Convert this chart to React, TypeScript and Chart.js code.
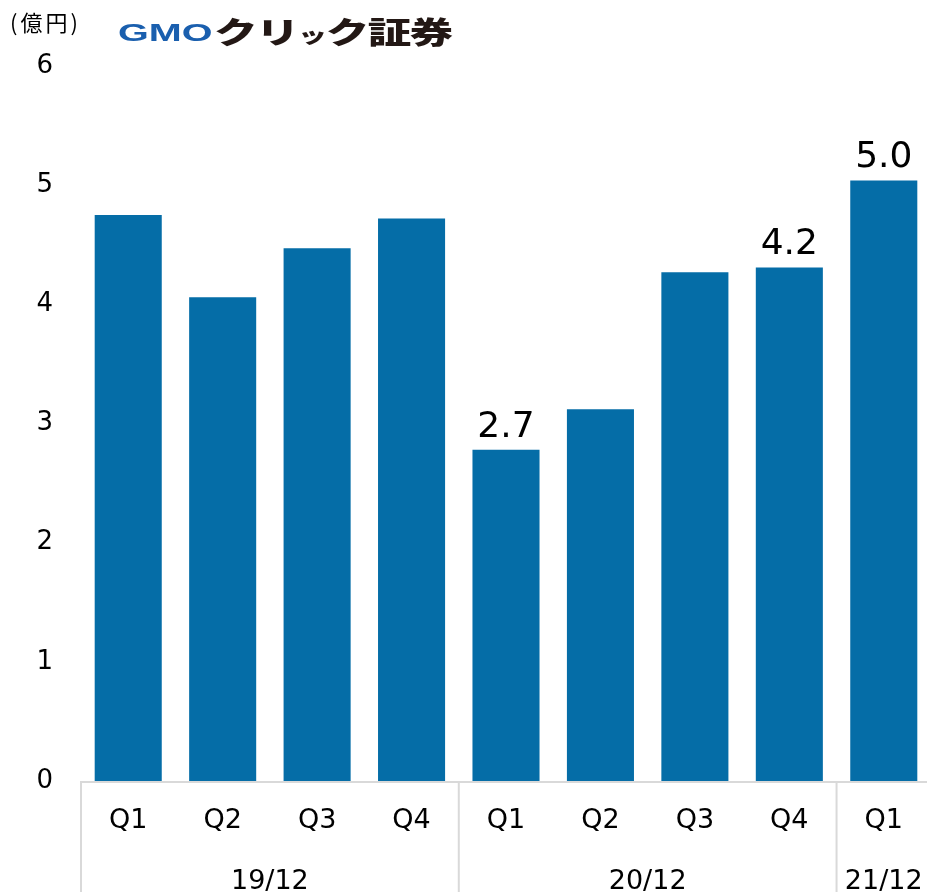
import React, { useEffect, useRef } from "react";
import { Chart, registerables } from "chart.js";

Chart.register(...registerables);

const quarters = ["Q1", "Q2", "Q3", "Q4", "Q1", "Q2", "Q3", "Q4", "Q1"];
const values = [4.75, 4.06, 4.47, 4.72, 2.78, 3.12, 4.27, 4.31, 5.04];
const valueLabels = ["", "", "", "", "2.7", "", "", "4.2", "5.0"];
const years = ["19/12", "20/12", "21/12"];
const yearSpans = [4, 4, 1];
const yTicks = [0, 1, 2, 3, 4, 5, 6];

const FONT = "'DejaVu Sans', Verdana, sans-serif";
const BAR = "#056da7";
const SEP = "#d9d9d9";

const groupPlugin = {
  id: "groups",
  afterDraw(chart: any) {
    const ctx = chart.ctx;
    const x = chart.scales.x;
    const area = chart.chartArea;
    const half = (x.getPixelForValue(1) - x.getPixelForValue(0)) / 2;
    ctx.save();
    // baseline
    ctx.strokeStyle = SEP;
    ctx.lineWidth = 2;
    ctx.beginPath();
    ctx.moveTo(area.left, area.bottom + 1);
    ctx.lineTo(area.right, area.bottom + 1);
    ctx.stroke();
    // separators and year labels
    let start = 0;
    ctx.font = "27px " + FONT;
    ctx.fillStyle = "#000";
    ctx.textAlign = "center";
    ctx.textBaseline = "alphabetic";
    for (let g = 0; g < years.length; g++) {
      const end = start + yearSpans[g] - 1;
      const left = x.getPixelForValue(start) - half;
      const right = x.getPixelForValue(end) + half;
      ctx.beginPath();
      ctx.moveTo(left, area.bottom);
      ctx.lineTo(left, chart.height);
      ctx.stroke();
      ctx.fillText(years[g], (left + right) / 2, area.bottom + 108);
      start = end + 1;
    }
    // value labels
    const meta = chart.getDatasetMeta(0);
    ctx.font = "36px " + FONT;
    meta.data.forEach((bar: any, i: number) => {
      if (valueLabels[i]) ctx.fillText(valueLabels[i], bar.x, bar.y - 13);
    });
    ctx.restore();
  },
};

export default function App() {
  const ref = useRef<HTMLCanvasElement>(null);
  useEffect(() => {
    document.body.style.overflow = "hidden";
    const chart = new Chart(ref.current!, {
      type: "bar",
      data: {
        labels: quarters,
        datasets: [
          {
            data: values,
            backgroundColor: BAR,
            borderWidth: 0,
            categoryPercentage: 1,
            barPercentage: 0.71,
          },
        ],
      },
      options: {
        animation: false,
        responsive: false,
        devicePixelRatio: 1,
        layout: { padding: { top: 66, left: 0, right: 0, bottom: 0 } },
        plugins: { legend: { display: false }, tooltip: { enabled: false } },
        scales: {
          x: {
            grid: { display: false, drawTicks: false },
            border: { display: false },
            ticks: {
              color: "#000",
              font: { family: FONT, size: 27 },
              padding: 24,
              maxRotation: 0,
              autoSkip: false,
            },
            afterFit(scale: any) {
              scale.height = 111;
            },
          },
          y: {
            min: 0,
            max: 6,
            grid: { display: false, drawTicks: false },
            border: { display: false },
            afterBuildTicks(scale: any) {
              scale.ticks = yTicks.map((v) => ({ value: v }));
            },
            ticks: {
              color: "#000",
              font: { family: FONT, size: 26 },
              padding: 28,
            },
            afterFit(scale: any) {
              scale.width = 81;
            },
          },
        },
      },
      plugins: [groupPlugin],
    });
    return () => chart.destroy();
  }, []);

  return (
    <div style={{ position: "fixed", left: 0, top: 0, width: 931, height: 892, background: "#fff" }}>
      <canvas ref={ref} width={931} height={892} style={{ position: "absolute", left: 0, top: 0 }} />
      <div
        style={{
          position: "absolute",
          left: 10,
          top: 6,
          fontFamily: "'Noto Sans CJK JP', sans-serif",
          fontSize: 22,
          color: "#000",
          lineHeight: "30px",
          letterSpacing: 3,
          whiteSpace: "nowrap",
        }}
      >
        (億円)
      </div>
      <div
        style={{
          position: "absolute",
          left: 118,
          top: 12,
          whiteSpace: "nowrap",
          lineHeight: "36px",
          height: 36,
        }}
      >
        <span
          style={{
            display: "inline-block",
            fontFamily: "'Liberation Sans', Arial, sans-serif",
            fontWeight: 900,
            fontSize: 23,
            color: "#1a5fae",
            transform: "scaleX(1.72) translateY(3px)",
            transformOrigin: "left center",
            width: 96,
            verticalAlign: "top",
          }}
        >
          GMO
        </span>
        <span
          style={{
            display: "inline-block",
            fontFamily: "'Noto Sans CJK JP', sans-serif",
            fontWeight: 900,
            fontSize: 30,
            color: "#231815",
            transform: "scaleX(1.45)",
            transformOrigin: "left center",
            letterSpacing: -1,
            verticalAlign: "top",
          }}
        >
          クリ<span style={{ fontSize: 20 }}>ッ</span>ク証券
        </span>
      </div>
    </div>
  );
}
